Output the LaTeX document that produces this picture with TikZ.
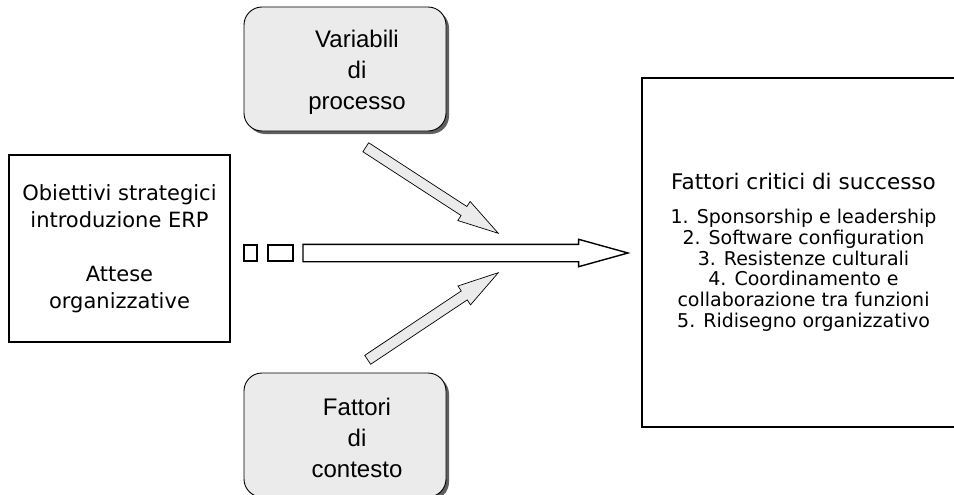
\documentclass[tikz,border=0pt]{standalone}
\usepackage{fontspec}
\setmainfont{Liberation Sans}
\newfontfamily\tahomalike{DejaVu Sans}
\usetikzlibrary{shapes.arrows,shadows}
\definecolor{boxgray}{RGB}{235,235,235}
\definecolor{shadowgray}{RGB}{95,95,95}

\begin{document}
\begin{tikzpicture}[x=1pt,y=-1pt,
    varbox/.style={draw, line width=0.9pt, rounded corners=18pt, fill=boxgray,
        minimum width=202pt, minimum height=124pt,
        drop shadow={shadow xshift=3pt, shadow yshift=-3pt, fill=shadowgray, opacity=1}},
    vartext/.style={align=center, font=\fontsize{24}{31}\selectfont},
    plainbox/.style={draw, line width=1.6pt, fill=white, align=center},
    fatarrow/.style={single arrow, draw, fill=boxgray, line width=0.7pt,
        inner sep=5pt, outer sep=0pt, minimum width=0pt,
        single arrow head extend=6pt, single arrow tip angle=31, anchor=tip},
    piece/.style={draw, line width=1.4pt, fill=white}]
    \useasboundingbox (0,0) rectangle (954,495);

    %variabili / fattori
    \node[varbox] (proc) at (345,69) {};
    \node[vartext] (proctext) at ([xshift=12pt,yshift=-3pt]proc.center) {Variabili\\di\\processo};
    \node[varbox] (cont) at (345,435) {};
    \node[vartext] (conttext) at (357,438) {Fattori\\di\\contesto};

    %obiettivi
    \node[plainbox, minimum width=221pt, minimum height=187pt,
        font=\tahomalike\fontsize{21}{27}\selectfont] (obj) at (119.5,248.5)
        {Obiettivi strategici\\introduzione ERP\\[27pt]Attese\\organizzative};

    %fattori critici
    \node[plainbox, minimum width=323pt, minimum height=349pt,
        font=\tahomalike\fontsize{19}{20.8}\selectfont] (fcs) at (803.5,252.5)
        {{\fontsize{21.5}{22}\selectfont Fattori critici di successo}\\[13pt]
         1. Sponsorship e leadership\\
         2. Software configuration\\
         3. Resistenze culturali\\
         4. Coordinamento e\\
         collaborazione tra funzioni\\
         5. Ridisegno organizzativo};

    %freccia principale
    \draw[piece] (244,245) rectangle (257,261);
    \draw[piece] (268,245) rectangle (293,261);
    \node[fatarrow, fill=white, line width=1.4pt, inner sep=8pt,
        single arrow head extend=5pt, minimum height=325pt] (main) at (628,253) {};

    %frecce diagonali
    \node[fatarrow, minimum height=158pt, rotate=-33] (down) at (498.3,233.3) {};
    \node[fatarrow, minimum height=157pt, rotate=33.7] (up) at (498.3,272.7) {};
\end{tikzpicture}
\end{document}
